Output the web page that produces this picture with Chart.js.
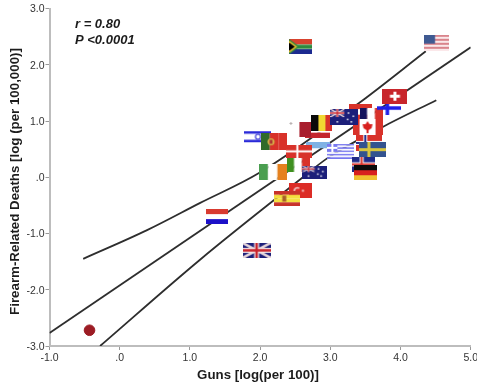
<!DOCTYPE html>
<html>
<head>
<meta charset="utf-8">
<title>Guns and firearm-related deaths</title>
<script src="https://cdn.jsdelivr.net/npm/chart.js@4"></script>
<style>
  html, body { margin: 0; background: #fff; }
  canvas { display: block; filter: blur(0.45px); }
</style>
</head>
<body>
<canvas id="myChart" width="477" height="388"></canvas>
<script>
const xTickLabels = ['-1.0', '.0', '1.0', '2.0', '3.0', '4.0', '5.0'];
const yTickLabels = ['-3.0', '-2.0', '-1.0', '.0', '1.0', '2.0', '3.0'];

// drawn in this order, later flags sit on top
const countries = ['Israel', 'Portugal', 'Latvia', 'Malta', 'Belgium', 'Argentina', 'Italy', 'Denmark', 'Ireland',
  'New Zealand', 'Greece', 'Austria', 'France', 'Canada', 'Norway', 'Finland', 'Switzerland', 'Australia',
  'Sweden', 'Iceland', 'Germany', 'Turkey', 'Spain', 'Netherlands', 'United Kingdom', 'United States', 'South Africa'];
const gunsLog = [1.97, 2.20, 2.82, 2.56, 2.88, 2.82, 2.54, 2.56, 2.18,
  2.78, 3.15, 3.43, 3.58, 3.53, 3.55, 3.84, 3.92, 3.20,
  3.60, 3.48, 3.50, 2.57, 2.39, 1.39, 1.95, 4.51, 2.58];
const deathsLog = [0.72, 0.63, 0.84, 0.85, 0.96, 0.48, 0.22, 0.46, 0.09,
  0.09, 0.46, 1.16, 1.10, 0.89, 0.61, 1.23, 1.44, 1.07,
  0.49, 0.23, 0.08, -0.24, -0.38, -0.70, -1.30, 2.39, 2.32];

const japanGuns = [-0.43];
const japanDeaths = [-2.72];

const fitGuns = [-1.0, 5.0];
const fitDeaths = [-2.77, 2.31];
const upperGuns = [-0.52, 0.39, 1.14, 1.99, 3.41, 4.36];
const upperDeaths = [-1.45, -0.94, -0.46, 0.08, 1.32, 2.24];
const lowerGuns = [-0.28, 1.14, 2.56, 2.96, 3.74, 4.51];
const lowerDeaths = [-3.0, -1.47, -0.05, 0.34, 0.89, 1.37];

const RED = '#d8322a';
const NAVY = '#1c1f7a';

function hBands(c, w, h, colors) {
  colors.forEach((col, i) => {
    c.fillStyle = col;
    c.fillRect(0, i * h / colors.length, w, h / colors.length);
  });
}
function vBands(c, w, h, colors) {
  colors.forEach((col, i) => {
    c.fillStyle = col;
    c.fillRect(i * w / colors.length, 0, w / colors.length, h);
  });
}
function cross(c, w, h, cx, color, t) {
  c.fillStyle = color;
  c.fillRect(cx - t / 2, 0, t, h);
  c.fillRect(0, h / 2 - t / 2, w, t);
}
function ensign(c, w, h) {
  // little union jack
  c.fillStyle = NAVY;
  c.fillRect(0, 0, w, h);
  c.strokeStyle = '#e8d8dc';
  c.lineWidth = h / 6;
  c.beginPath();
  c.moveTo(0, 0); c.lineTo(w, h); c.moveTo(w, 0); c.lineTo(0, h);
  c.stroke();
  cross(c, w, h, w / 2, '#f2e6e8', h / 3);
  cross(c, w, h, w / 2, '#c8232c', h / 6);
}
function stars(c, w, h, color) {
  c.fillStyle = color;
  [[0.65, 0.25], [0.82, 0.45], [0.62, 0.65], [0.75, 0.8], [0.25, 0.8]].forEach((p) => {
    c.fillRect(p[0] * w - 0.75, p[1] * h - 0.75, 1.5, 1.5);
  });
}
function southernFlag(c, w, h) {
  c.fillStyle = NAVY;
  c.fillRect(0, 0, w, h);
  stars(c, w, h, '#fff');
  c.save();
  c.beginPath();
  c.rect(0, 0, w / 2, h / 2);
  c.clip();
  ensign(c, w / 2, h / 2);
  c.restore();
}

const flagStyles = {
  Israel: [27, 15, (c, w, h) => {
    c.fillStyle = '#2a2ad8';
    c.fillRect(0, 2, w, 2.5);
    c.fillRect(0, h - 4.5, w, 2.5);
    c.strokeStyle = '#3a3ad8';
    c.lineWidth = 1.2;
    c.beginPath();
    c.arc(w / 2, h / 2, 2.5, 0, 7);
    c.stroke();
  }],
  Portugal: [26, 17, (c, w, h) => {
    vBands(c, w, h, ['#2f6b2a', RED, RED]);
    c.fillStyle = '#d8b24a';
    c.beginPath();
    c.arc(w * 0.38, h / 2, 3.5, 0, 7);
    c.fill();
    c.fillStyle = '#a33';
    c.fillRect(w * 0.38 - 1.5, h / 2 - 2, 3, 4);
  }],
  Latvia: [25, 16, (c, w, h) => hBands(c, w, h, ['#c4262c', '#fff', '#c4262c'])],
  Malta: [24, 15, (c, w, h) => {
    vBands(c, w, h, ['#fff', '#a81e2d']);
    c.fillStyle = '#b8b0b0';
    c.fillRect(2, 1, 3, 1);
    c.fillRect(3, 0, 1, 3);
  }],
  Belgium: [21, 16, (c, w, h) => vBands(c, w, h, ['#0a0a0a', '#f0d832', '#d8322a'])],
  Argentina: [24, 16, (c, w) => {
    c.fillStyle = '#7fb2e4';
    c.fillRect(0, 0, w, 6);
  }],
  Italy: [23, 14, (c, w, h) => vBands(c, w, h, ['#3f9020', '#fff', RED])],
  Denmark: [26, 13, (c, w, h) => {
    c.fillStyle = RED;
    c.fillRect(0, 0, w, h);
    cross(c, w, h, w * 0.42, '#fff', 2);
  }],
  Ireland: [28, 16, (c, w, h) => vBands(c, w, h, ['#4a9e50', '#fff', '#e5811f'])],
  'New Zealand': [25, 13, southernFlag],
  Greece: [27, 15, (c, w, h) => {
    hBands(c, w, h, ['#7878f0', '#fff', '#7878f0', '#fff', '#7878f0', '#fff', '#7878f0', '#fff', '#7878f0']);
    c.fillStyle = '#7878f0';
    c.fillRect(0, 0, 10, 8);
    c.fillStyle = '#fff';
    c.fillRect(4, 0, 2, 8);
    c.fillRect(0, 3, 10, 2);
  }],
  Austria: [23, 16, (c, w, h) => hBands(c, w, h, ['#d8322a', '#fff', '#d8322a'])],
  France: [23, 15, (c, w, h) => vBands(c, w, h, ['#14145e', '#fff', RED])],
  Canada: [30, 16, (c, w, h) => {
    vBands(c, w, h, [RED, '#fff', '#fff', RED]);
    c.fillStyle = '#fff';
    c.fillRect(7, 0, 16, h);
    c.fillStyle = '#d8201e';
    c.beginPath();
    c.moveTo(15, 2); c.lineTo(17, 5); c.lineTo(20, 5); c.lineTo(19, 9); c.lineTo(16, 11);
    c.lineTo(16, 14); c.lineTo(14, 14); c.lineTo(14, 11); c.lineTo(11, 9); c.lineTo(10, 5); c.lineTo(13, 5);
    c.closePath();
    c.fill();
  }],
  Norway: [26, 16, (c, w, h) => {
    c.fillStyle = RED;
    c.fillRect(0, 0, w, h);
    cross(c, w, h, w * 0.36, '#fff', 4);
    cross(c, w, h, w * 0.36, '#1c2a8a', 2);
  }],
  Finland: [24, 14, (c, w, h) => cross(c, w, h, w * 0.42, '#2020e8', 3.5)],
  Switzerland: [25, 15, (c, w, h) => {
    c.fillStyle = '#c8262c';
    c.fillRect(0, 0, w, h);
    c.fillStyle = '#fff';
    c.fillRect(w / 2 - 1.5, 3, 3, h - 6);
    c.fillRect(w / 2 - 5, h / 2 - 1.5, 10, 3);
  }],
  Australia: [28, 16, southernFlag],
  Sweden: [27, 15, (c, w, h) => {
    c.fillStyle = '#33538f';
    c.fillRect(0, 0, w, h);
    cross(c, w, h, w * 0.37, '#d8c640', 3);
  }],
  Iceland: [23, 15, (c, w, h) => {
    c.fillStyle = '#1f2a88';
    c.fillRect(0, 0, w, h);
    cross(c, w, h, w * 0.4, '#fff', 4);
    cross(c, w, h, w * 0.4, RED, 2);
  }],
  Germany: [23, 15, (c, w, h) => hBands(c, w, h, ['#0a0a0a', '#d8201e', '#f0c030'])],
  Turkey: [23, 15, (c, w, h) => {
    c.fillStyle = '#dc2c26';
    c.fillRect(0, 0, w, h);
    c.strokeStyle = '#f4c8c8';
    c.lineWidth = 1.4;
    c.beginPath();
    c.arc(w * 0.38, h / 2, 3, 0.9, 5.4);
    c.stroke();
    c.fillStyle = '#f4c8c8';
    c.fillRect(w * 0.58, h / 2 - 1, 2, 2);
  }],
  Spain: [26, 15, (c, w, h) => {
    hBands(c, w, h, ['#c8322a', '#f4e040', '#f4e040', '#c8322a']);
    c.fillStyle = '#a8602a';
    c.fillRect(w * 0.3, h / 2 - 3, 4, 6);
  }],
  Netherlands: [22, 15, (c, w, h) => hBands(c, w, h, ['#d83a30', '#fff', '#1c10c8'])],
  'United Kingdom': [28, 15, ensign],
  'United States': [25, 16, (c, w, h) => {
    for (let i = 0; i < 8; i++) {
      c.fillStyle = i % 2 ? '#fbe8ea' : '#d9848c';
      c.fillRect(0, i * h / 8, w, h / 8);
    }
    c.fillStyle = '#3f5a92';
    c.fillRect(0, 0, w * 0.45, h * 0.55);
  }],
  'South Africa': [23, 15, (c, w, h) => {
    hBands(c, w, h, ['#d8422e', '#fff', '#1c2a90']);
    c.fillStyle = '#2f8a3e';
    c.fillRect(0, h * 0.36, w, h * 0.28);
    c.beginPath();
    c.moveTo(0, 0); c.lineTo(w * 0.45, h / 2); c.lineTo(0, h);
    c.fill();
    c.fillStyle = '#e8c030';
    c.beginPath();
    c.moveTo(0, 1.5); c.lineTo(w * 0.34, h / 2); c.lineTo(0, h - 1.5);
    c.fill();
    c.fillStyle = '#000';
    c.beginPath();
    c.moveTo(0, 3.5); c.lineTo(w * 0.24, h / 2); c.lineTo(0, h - 3.5);
    c.fill();
  }],
};

function makeFlag(name) {
  const [w, h, paint] = flagStyles[name];
  const cv = document.createElement('canvas');
  cv.width = w;
  cv.height = h;
  paint(cv.getContext('2d'), w, h);
  return cv;
}

function toPoints(xs, ys) {
  return xs.map((x, i) => ({ x: x, y: ys[i] }));
}

function bandLine(label, xs, ys) {
  return {
    type: 'line',
    label: label,
    data: toPoints(xs, ys),
    borderColor: '#2e2e2e',
    borderWidth: 1.8,
    pointRadius: 0,
    cubicInterpolationMode: 'monotone',
    fill: false,
    order: 2,
  };
}

// axis titles and the r / P note sit off the plot centre in the original
const textLabels = {
  id: 'textLabels',
  afterDraw(chart) {
    const c = chart.ctx;
    c.save();
    c.fillStyle = '#1c1c1c';
    c.textBaseline = 'middle';
    c.textAlign = 'left';
    c.font = 'italic bold 13px "Liberation Sans"';
    c.fillText('r = 0.80', 75, 24);
    c.fillText('P <0.0001', 75, 40);
    c.textAlign = 'center';
    c.font = 'bold 13.3px "Liberation Sans"';
    c.fillText('Guns [log(per 100)]', 258, 375);
    c.translate(15, 181.5);
    c.rotate(-Math.PI / 2);
    c.fillText('Firearm-Related Deaths [log (per 100,000)]', 0, 0);
    c.restore();
  },
};

const ctx = document.getElementById('myChart').getContext('2d');
const myChart = new Chart(ctx, {
  type: 'scatter',
  data: {
    datasets: [
      {
        label: 'Countries',
        data: toPoints(gunsLog, deathsLog),
        pointStyle: countries.map(makeFlag),
        order: 1,
      },
      {
        label: 'Japan',
        data: toPoints(japanGuns, japanDeaths),
        pointStyle: 'circle',
        pointRadius: 5.3,
        backgroundColor: '#9c1c24',
        borderColor: '#9c1c24',
        order: 1,
      },
      bandLine('Fit', fitGuns, fitDeaths),
      bandLine('Upper', upperGuns, upperDeaths),
      bandLine('Lower', lowerGuns, lowerDeaths),
    ],
  },
  plugins: [textLabels],
  options: {
    responsive: false,
    animation: false,
    layout: { padding: { top: 8.5, right: 5.3, left: 0, bottom: 0 } },
    plugins: { legend: { display: false }, tooltip: { enabled: false } },
    scales: {
      x: {
        type: 'linear',
        min: -1,
        max: 5,
        afterFit(scale) {
          scale.height = 42;
          scale.paddingLeft = 0;
          scale.paddingRight = 0;
        },
        afterBuildTicks(scale) {
          scale.ticks = xTickLabels.map((t, i) => ({ value: i - 1 }));
        },
        grid: { drawOnChartArea: false, color: '#999', tickLength: 4 },
        border: { color: '#bdbdbd', width: 2 },
        ticks: {
          autoSkip: false,
          maxRotation: 0,
          padding: 2,
          color: '#333',
          font: { family: 'Liberation Sans', size: 10.5 },
          callback: (v, i) => xTickLabels[i],
        },
      },
      y: {
        min: -3,
        max: 3,
        afterFit(scale) {
          scale.width = 49.5;
          scale.paddingTop = 0;
          scale.paddingBottom = 0;
        },
        afterBuildTicks(scale) {
          scale.ticks = yTickLabels.map((t, i) => ({ value: i - 3 }));
        },
        grid: { drawOnChartArea: false, color: '#999', tickLength: 4 },
        border: { color: '#bdbdbd', width: 2 },
        ticks: {
          autoSkip: false,
          padding: 1,
          labelOffset: 1,
          color: '#333',
          font: { family: 'Liberation Sans', size: 10.5 },
          callback: (v, i) => yTickLabels[i],
        },
      },
    },
  },
});
</script>
</body>
</html>
